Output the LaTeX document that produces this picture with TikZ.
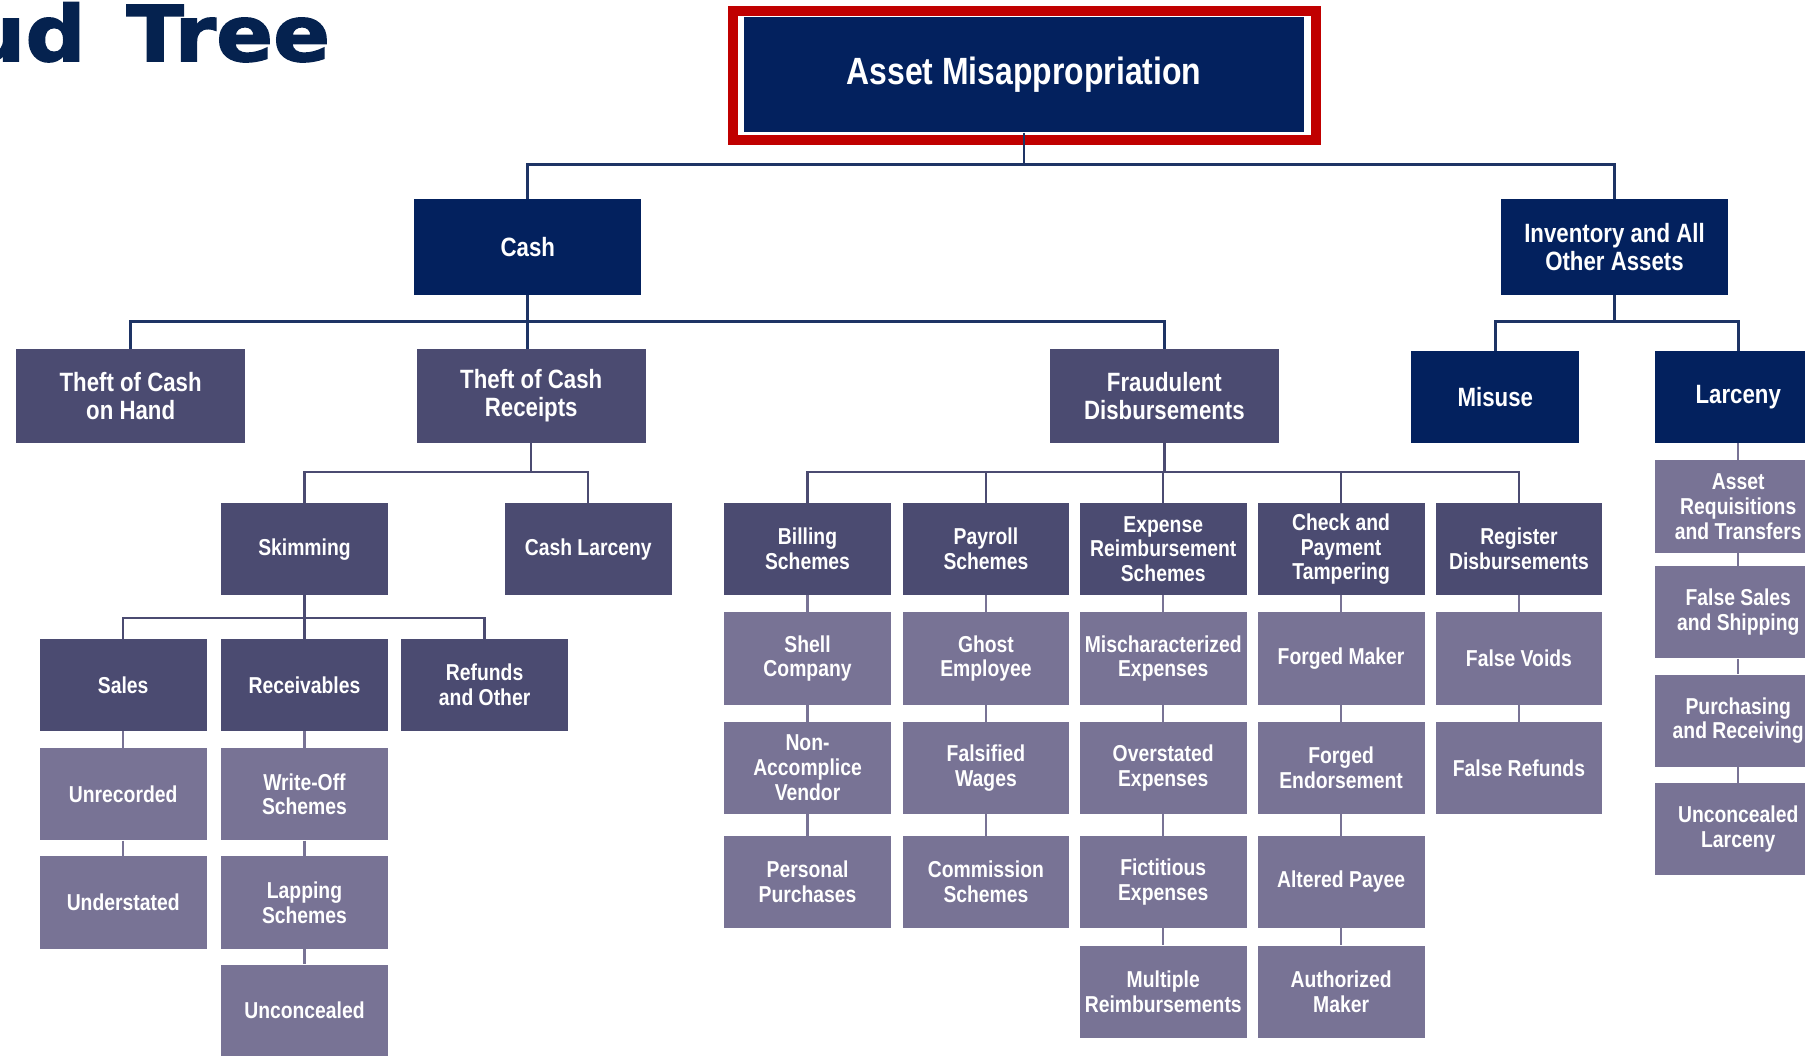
\documentclass[tikz,border=0pt]{standalone}
\usepackage{fontspec}
\usetikzlibrary{calc}
\newfontfamily\boxfont{Liberation Sans}[FakeStretch=0.84]
\newfontfamily\titlefont{DejaVu Sans}[FakeStretch=1.09, FakeBold=2, WordSpace=1.4]
\definecolor{navyc}{HTML}{03215E}
\definecolor{slatec}{HTML}{4B4B71}
\definecolor{leafc}{HTML}{787395}
\definecolor{titlec}{HTML}{05224F}
\definecolor{framec}{HTML}{C00000}
\definecolor{linec}{HTML}{1E3465}
\begin{document}
\begin{tikzpicture}[x=1pt,y=-1pt,
  box/.style={rectangle, inner sep=0pt, align=center, text=white,
    minimum width=145pt, minimum height=80pt,
    font=\boxfont\bfseries\fontsize{20}{21.5}\selectfont},
  bigbox/.style={box, fill=navyc, font=\boxfont\bfseries\fontsize{23}{24.5}\selectfont},
  midbig/.style={box, fill=slatec, minimum width=199pt, minimum height=82pt,
    font=\boxfont\bfseries\fontsize{23}{24.5}\selectfont},
  midbox/.style={box, fill=slatec},
  leafbox/.style={box, fill=leafc},
  conn/.style={draw=linec, line width=2.4pt},
  conn2/.style={draw=slatec, line width=2pt},
  conn3/.style={draw=leafc, line width=2pt}]
\useasboundingbox (0,0) rectangle (1568,917);
\clip (0,0) rectangle (1568,917);

% title (cut off at the left edge)
\node[anchor=base east, inner sep=0pt, text=titlec,
  font=\titlefont\bfseries\fontsize{67}{70}\selectfont] (title) at (287,53) {Fraud Tree};

% top
\node[box, fill=navyc, minimum width=487pt, minimum height=100pt,
  font=\boxfont\bfseries\fontsize{33}{36}\selectfont] (top) at (889.5,65) {Asset Misappropriation};
\draw[draw=framec, line width=8.7pt]
  ($(top.north west)+(-9.3,-5.5)$) rectangle ($(top.south east)+(10.2,6.6)$);

% level 1
\node[bigbox, minimum width=197pt, minimum height=83pt] (cash) at (458.5,214.5) {Cash};
\node[bigbox, minimum width=197pt, minimum height=83pt] (inv) at (1402.5,214.5) {Inventory and All\\Other Assets};

% level 2
\node[midbig] (toh) at (113.5,344) {Theft of Cash\\on Hand};
\node[midbig] (tcr) at (461.5,344) {Theft of Cash\\Receipts};
\node[midbig] (fd) at (1011.5,344) {Fraudulent\\Disbursements};
\node[bigbox, minimum width=146pt] (misuse) at (1299,345) {Misuse};
\node[bigbox, minimum width=144pt] (larc) at (1510,345) {Larceny};

% receipts branch
\node[midbox] (skim) at (264.5,477) {Skimming};
\node[midbox] (clarc) at (511,477) {Cash Larceny};
\node[midbox] (sales) at (107,595) {Sales};
\node[midbox] (recv) at (264.5,595) {Receivables};
\node[midbox] (refu) at (421,595) {Refunds\\and Other};
\node[leafbox] (unrec) at (107,690) {Unrecorded};
\node[leafbox] (under) at (107,784) {Understated};
\node[leafbox] (woff) at (264.5,690) {Write-Off\\Schemes};
\node[leafbox] (lapp) at (264.5,784) {Lapping\\Schemes};
\node[leafbox] (uncon) at (264.5,878) {Unconcealed};

% fraudulent disbursements branch
\node[midbox] (bill) at (701.5,477) {Billing\\Schemes};
\node[midbox] (pay) at (856.5,477) {Payroll\\Schemes};
\node[midbox] (exp) at (1010.5,477) {Expense\\Reimbursement\\Schemes};
\node[midbox] (chk) at (1165,477) {Check and\\Payment\\Tampering};
\node[midbox] (reg) at (1319.5,477) {Register\\Disbursements};

\node[leafbox] (shell) at (701.5,572) {Shell\\Company};
\node[leafbox] (nonacc) at (701.5,667) {Non-\\Accomplice\\Vendor};
\node[leafbox] (pers) at (701.5,766) {Personal\\Purchases};

\node[leafbox] (ghost) at (856.5,572) {Ghost\\Employee};
\node[leafbox] (falw) at (856.5,667) {Falsified\\Wages};
\node[leafbox] (comm) at (856.5,766) {Commission\\Schemes};

\node[leafbox] (misc) at (1010.5,572) {Mischaracterized\\Expenses};
\node[leafbox] (over) at (1010.5,667) {Overstated\\Expenses};
\node[leafbox] (fict) at (1010.5,766) {Fictitious\\Expenses};
\node[leafbox] (mult) at (1010.5,861.5) {Multiple\\Reimbursements};

\node[leafbox] (fmak) at (1165,572) {Forged Maker};
\node[leafbox] (fend) at (1165,667) {Forged\\Endorsement};
\node[leafbox] (alt) at (1165,766) {Altered Payee};
\node[leafbox] (auth) at (1165,861.5) {Authorized\\Maker};

\node[leafbox] (fvoid) at (1319.5,572) {False Voids};
\node[leafbox] (fref) at (1319.5,667) {False Refunds};

% larceny column
\node[leafbox, minimum width=144pt] (areq) at (1510,440) {Asset\\Requisitions\\and Transfers};
\node[leafbox, minimum width=144pt] (fsal) at (1510,532) {False Sales\\and Shipping};
\node[leafbox, minimum width=144pt] (purch) at (1510,626) {Purchasing\\and Receiving};
\node[leafbox, minimum width=144pt] (ulab) at (1510,720) {Unconcealed\\Larceny};

% bus levels
\coordinate (b1) at (0,143);
\coordinate (b2) at (0,279);
\coordinate (b3) at (0,410);
\coordinate (b4) at (0,537);

% connectors
\draw[conn] (top.south) -- (top.south |- b1);
\draw[conn] (cash.north) -- (cash.north |- b1) -- (inv.north |- b1) -- (inv.north);
\draw[conn] (cash.south) -- (cash.south |- tcr.north);
\draw[conn] (toh.north) -- (toh.north |- b2) -- (fd.north |- b2) -- (fd.north);
\draw[conn] (inv.south) -- (inv.south |- b2);
\draw[conn] (misuse.north) -- (misuse.north |- b2) -- (larc.north |- b2) -- (larc.north);

\draw[conn2] (tcr.south) -- (tcr.south |- b3);
\draw[conn2] (skim.north) -- (skim.north |- b3) -- (clarc.north |- b3) -- (clarc.north);
\draw[conn2] (skim.south) -- (skim.south |- recv.north);
\draw[conn2] (sales.north) -- (sales.north |- b4) -- (refu.north |- b4) -- (refu.north);

\draw[conn2] (fd.south) -- (fd.south |- b3);
\draw[conn2] (bill.north) -- (bill.north |- b3) -- (reg.north |- b3) -- (reg.north);
\foreach \c in {pay,exp,chk} \draw[conn2] (\c.north) -- (\c.north |- b3);

\foreach \a/\b in {sales/unrec, unrec/under, recv/woff, woff/lapp, lapp/uncon,
  bill/shell, shell/nonacc, nonacc/pers, pay/ghost, ghost/falw, falw/comm,
  exp/misc, misc/over, over/fict, fict/mult, chk/fmak, fmak/fend, fend/alt, alt/auth,
  reg/fvoid, fvoid/fref, larc/areq, areq/fsal, fsal/purch, purch/ulab}
  \draw[conn3] (\a.south) -- (\a.south |- \b.north);
\end{tikzpicture}
\end{document}
